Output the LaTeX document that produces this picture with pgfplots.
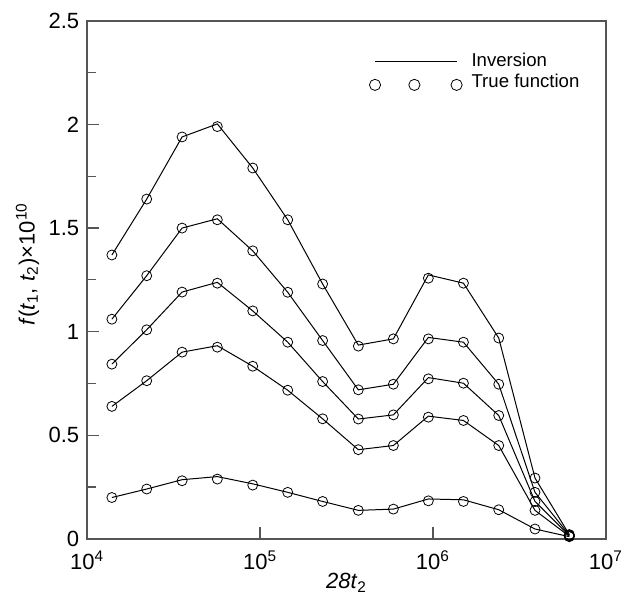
\documentclass[border=0pt]{standalone}
\usepackage{fontspec}
\setmainfont{Liberation Sans}
\usepackage{pgfplots}
\pgfplotsset{compat=1.18}
\definecolor{framegray}{RGB}{85,85,85}

% true function (circles)
\pgfplotstableread{
x       a     b     c     d     e
13900   1.37  1.06  0.843 0.639 0.199
22100   1.64  1.27  1.009 0.763 0.240
35400   1.94  1.50  1.191 0.901 0.280
56600   1.99  1.54  1.234 0.925 0.288
90700   1.79  1.39  1.100 0.833 0.259
144500  1.54  1.19  0.949 0.717 0.224
230000  1.23  0.957 0.759 0.579 0.180
370000  0.93  0.719 0.578 0.430 0.137
590000  0.965 0.746 0.598 0.450 0.143
940000  1.258 0.965 0.772 0.587 0.183
1500000 1.234 0.949 0.751 0.571 0.180
2400000 0.969 0.746 0.595 0.450 0.140
3890000 0.293 0.224 0.180 0.137 0.047
6140000 0.020 0.018 0.015 0.012 0.010
}\truedata

% inversion (lines)
\pgfplotstableread{
x       a     b     c     d     e
13900   1.37  1.06  0.843 0.639 0.199
22100   1.64  1.27  1.009 0.763 0.240
35400   1.94  1.50  1.191 0.901 0.285
56600   2.003 1.545 1.238 0.932 0.300
90700   1.79  1.39  1.100 0.833 0.265
144500  1.54  1.19  0.949 0.717 0.224
230000  1.23  0.957 0.759 0.579 0.180
370000  0.935 0.719 0.578 0.430 0.137
590000  0.965 0.746 0.598 0.450 0.143
940000  1.274 0.972 0.778 0.592 0.192
1500000 1.234 0.949 0.751 0.571 0.188
2400000 0.969 0.746 0.595 0.450 0.140
3890000 0.293 0.224 0.180 0.137 0.047
6140000 0.020 0.018 0.015 0.012 0.010
}\invdata

\begin{document}
\begin{tikzpicture}
\begin{axis}[
  scale only axis,
  width=259.5pt, height=259pt,
  xmode=log, log basis x=10,
  xmin=1e4, xmax=1e7,
  ymin=0, ymax=2.5,
  xtick={1e4,1e5,1e6,1e7},
  xticklabels={10\textsuperscript{4},10\textsuperscript{5},10\textsuperscript{6},10\textsuperscript{7}},
  ytick={0,0.5,1,1.5,2,2.5},
  yticklabels={0,0.5,1,1.5,2,2.5},
  minor y tick num=1,
  tick align=inside,
  xtick pos=bottom, ytick pos=left,
  major tick length=6pt, minor tick length=4.5pt,
  tick style={framegray, line width=0.6pt},
  axis line style={framegray, line width=0.9pt},
  tick label style={font=\fontsize{11}{13}\selectfont},
  xticklabel style={yshift=-2.5pt},
  yticklabel style={xshift=-0.5pt},
  xlabel={\textit{28t}\textsubscript{2}},
  ylabel={\textit{f}(\textit{t}\textsubscript{1}, \textit{t}\textsubscript{2})×10\textsuperscript{10}},
  label style={font=\fontsize{11}{13}\selectfont},
  xlabel style={at={(rel axis cs:0.5,-0.085)}, anchor=center},
  ylabel style={at={(rel axis cs:-0.115,0.53)}, anchor=center},
  legend style={draw=none, fill=none, at={(0.531,0.954)}, anchor=north west,
    font=\fontsize{9.3}{11}\selectfont, row sep=-2pt,
    legend cell align=left},
  clip=false,
]
\addlegendimage{legend image code/.code={\path[draw=none, fill=none] (-2.8pt,0pt) rectangle (46.3pt,0.1pt); \draw[black, line width=0.5pt] (0pt,0pt) -- (41pt,0pt);}}
\addlegendentry{Inversion}
\addlegendimage{legend image code/.code={\path[draw=none, fill=none] (-2.8pt,0pt) rectangle (46.3pt,0.1pt); \draw[black, line width=0.4pt] (0pt,-1.5pt) circle (2.8pt) (19.7pt,-1.5pt) circle (2.8pt) (40.8pt,-1.5pt) circle (2.8pt);}}
\addlegendentry{True function}

\foreach \c in {a,b,c,d,e} {
  \addplot[black, line width=0.5pt, forget plot] table[x=x, y=\c] {\invdata};
  \addplot[black, line width=0.4pt, only marks, mark=o, mark size=2.5pt, forget plot] table[x=x, y=\c] {\truedata};
}

\coordinate (bbsw) at (rel axis cs:-0.168,-0.118);
\coordinate (bbne) at (rel axis cs:1.031,1.0405);
\end{axis}
\pgfresetboundingbox
\path[use as bounding box] (bbsw) rectangle (bbne);
\end{tikzpicture}
\end{document}
